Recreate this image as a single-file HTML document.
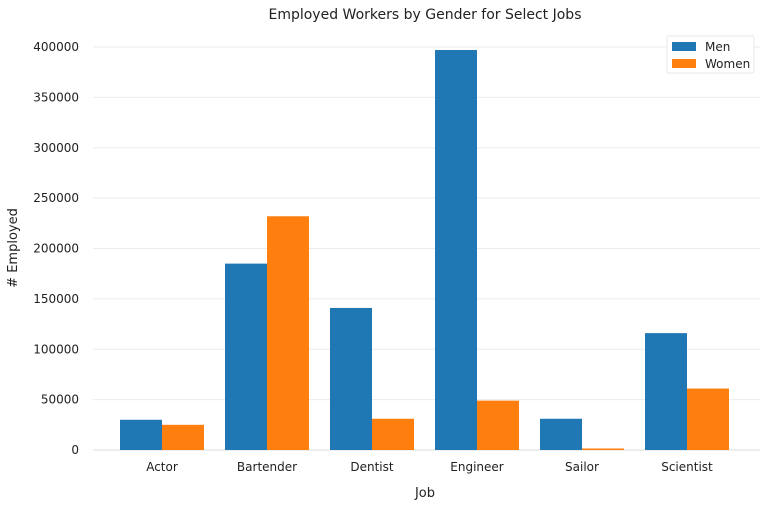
<!DOCTYPE html>
<html><head><meta charset="utf-8"><style>
body{margin:0;background:#fff;font-family:"DejaVu Sans","Liberation Sans",sans-serif;}
svg text{font-family:"DejaVu Sans","Liberation Sans",sans-serif;fill:#222;}
</style></head><body>
<svg id="chart" width="768" height="506" xmlns="http://www.w3.org/2000/svg">
<text x="425" y="19" text-anchor="middle" font-size="14">Employed Workers by Gender for Select Jobs</text>
<g id="grid"></g><g id="bars"></g><g id="xt"></g>
<text x="425" y="497" text-anchor="middle" font-size="13">Job</text>
<text transform="translate(17,248) rotate(-90)" text-anchor="middle" font-size="13"># Employed</text>
<g>
<rect x="667" y="36" width="87" height="37" fill="#fff" stroke="#e8e8e8" rx="2"/>
<rect x="672" y="42" width="24" height="9" fill="#1f77b4"/>
<text x="705" y="51" font-size="12">Men</text>
<rect x="672" y="59" width="24" height="9" fill="#ff7f0e"/>
<text x="705" y="68" font-size="12">Women</text>
</g>
</svg>
<script>
const categories=["Actor","Bartender","Dentist","Engineer","Sailor","Scientist"];
const men=[30000,185000,141000,397000,31000,116000];
const women=[25000,232000,31000,49000,1500,61000];
const yTicks=[0,50000,100000,150000,200000,250000,300000,350000,400000];
const NS="http://www.w3.org/2000/svg";
const y=v=>450-v*(403/400000);
const x=i=>162+i*105;
const bw=42;
function mk(t,a,p){const e=document.createElementNS(NS,t);for(const k in a)e.setAttribute(k,a[k]);p.appendChild(e);return e;}
const grid=document.getElementById('grid');
yTicks.forEach(v=>{
  const l=mk('line',{x1:93,x2:760,y1:y(v),y2:y(v),stroke:v===0?'#ddd':'#ebebeb','stroke-width':1},grid);
  
  
  const t=mk('text',{x:79,y:y(v)+4,'text-anchor':'end','font-size':12},grid);
  
  
  t.textContent=v;
});
const bars=document.getElementById('bars'),xt=document.getElementById('xt');
categories.forEach((c,i)=>{
  const m=mk('rect',{x:x(i)-bw,y:y(men[i]),width:bw,height:y(0)-y(men[i]),fill:'#1f77b4'},bars);
  
  
  const w=mk('rect',{x:x(i),y:y(women[i]),width:bw,height:y(0)-y(women[i]),fill:'#ff7f0e'},bars);
  
  
  const t=mk('text',{x:x(i),y:471,'text-anchor':'middle','font-size':12},xt);
  
  
  t.textContent=c;
});
</script>
</body></html>
